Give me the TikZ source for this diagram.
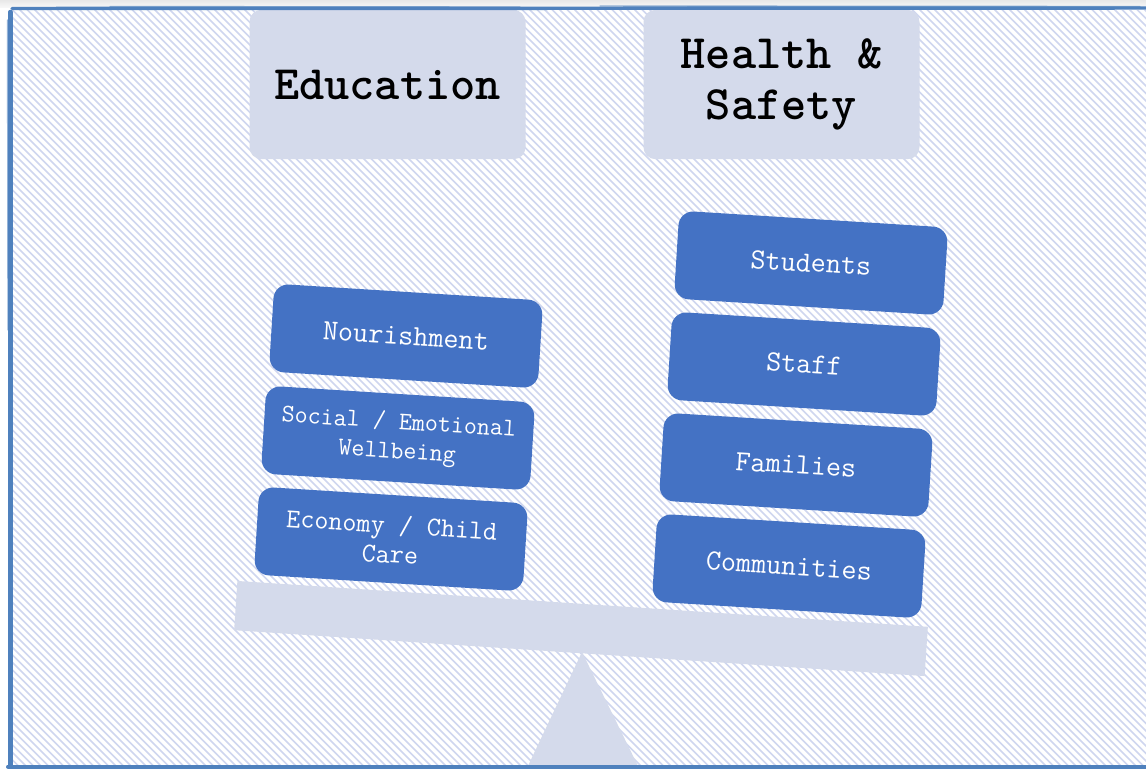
\documentclass[tikz,border=0pt]{standalone}
\definecolor{boxblue}{HTML}{4472C4}
\definecolor{lightbox}{HTML}{D4DAEB}
\definecolor{hatchc}{HTML}{CFD6EF}
\definecolor{bordc}{HTML}{4F81BD}
\begin{document}
\begin{tikzpicture}[x=0.75pt,y=-0.75pt,
  hatch/.style={draw=hatchc, line width=1.2pt},
  headbox/.style={fill=lightbox, rounded corners=9pt, minimum width=207pt, minimum height=112pt, inner sep=0pt, align=center, text=black, font=\fontsize{36}{38}\selectfont\ttfamily\bfseries},
  itembox/.style={fill=boxblue, rounded corners=11pt, minimum width=202pt, minimum height=66pt, inner sep=3pt, align=center, rotate=-3.6, text=white, font=\fontsize{22}{22}\selectfont\ttfamily},
  smalltext/.style={font=\fontsize{19}{22}\selectfont\ttfamily},
  midtext/.style={font=\fontsize{20.5}{22}\selectfont\ttfamily},
  plankst/.style={fill=lightbox, minimum width=519pt, minimum height=37pt, rotate=-3.8, inner sep=0pt},
  bord/.style={draw=bordc, line cap=round}
]
\useasboundingbox (0,0) rectangle (1146,768);
\fill[white] (0,0) rectangle (1146,768);
\fill[top color=black!9, bottom color=black!3] (0,0) rectangle (1146,7);
% hatching
\begin{scope}
  \clip (12,10) rectangle (1146,765);
  \foreach \i in {-770,-762.5,...,1146} {\draw[hatch] (\i,0) -- +(780,780);}
\end{scope}
% fulcrum and plank
\fill[lightbox] (582,652) -- (639,768) -- (527,768) -- cycle;
\node[plankst] (plank) at (581,628.5) {};
% left stack
\node[itembox] (nour) at (406,336) {Nourishment};
\node[itembox, smalltext] (soc) at (398,438) {Social / Emotional\\Wellbeing};
\node[itembox, midtext] (eco) at (391,539) {Economy / Child\\Care};
% right stack
\node[itembox] (stu) at (811,263) {Students};
\node[itembox] (sta) at (804,364) {Staff};
\node[itembox] (fam) at (796,465) {Families};
\node[itembox] (com) at (789,566) {Communities};
% headings
\node[headbox] (edu) at (387.5,84.5) {Education};
\node[headbox] (hs) at (781.5,84.5) {Health \&\\Safety};
% rough border
\draw[bord, line width=2.6pt] (12,8.5) -- (1146,8);
\draw[bord, line width=1pt, opacity=.6] (110,6.5) -- (520,7);
\draw[bord, line width=1pt, opacity=.6] (600,6) -- (1140,6.5);
\draw[bord, line width=3.4pt] (10.5,12) -- (10.5,768);
\draw[bord, line width=1pt, opacity=.6] (7.5,20) -- (8,330);
\draw[bord, line width=3pt] (8,766.5) -- (1146,766.5);
\end{tikzpicture}
\end{document}
